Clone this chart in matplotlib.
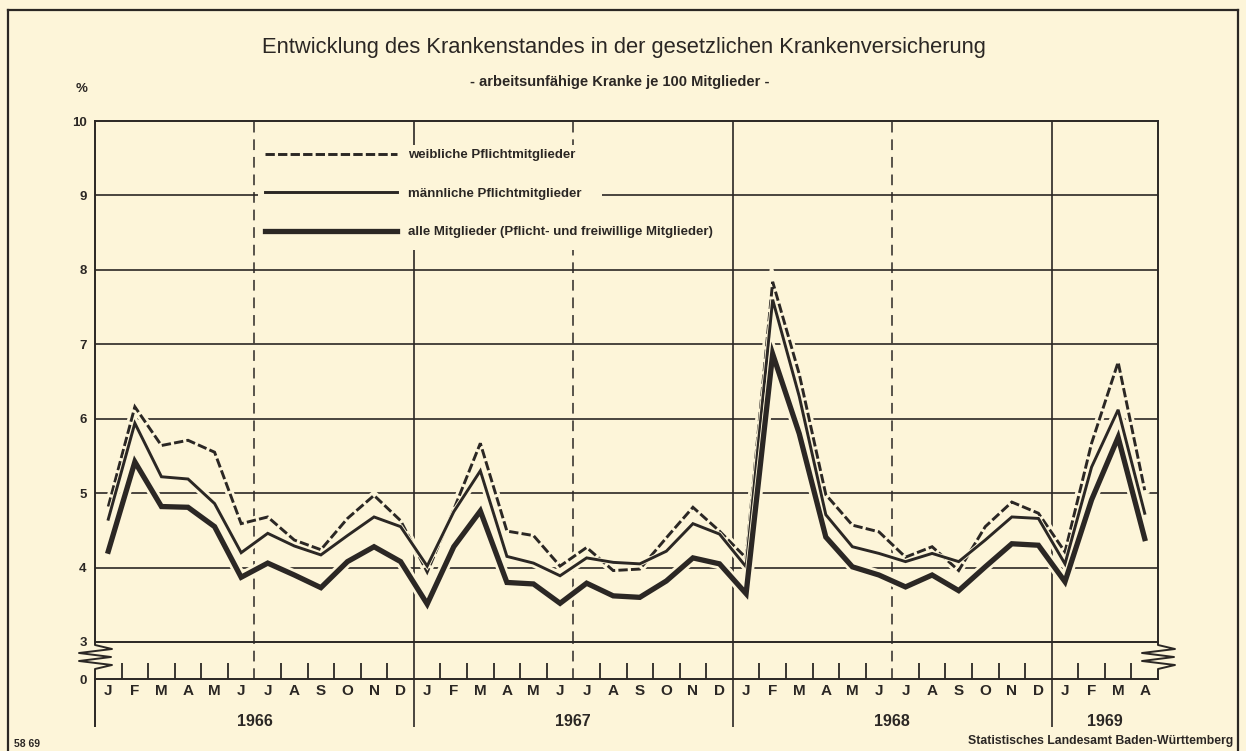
import matplotlib
matplotlib.use("Agg")
import matplotlib.pyplot as plt
import matplotlib.patheffects as pe
from matplotlib.lines import Line2D
from matplotlib.patches import Rectangle
import numpy as np

# arbeitsunfähige Kranke je 100 Mitglieder, Jan 1966 - Apr 1969 (monthly)
month_labels = ["J", "F", "M", "A", "M", "J", "J", "A", "S", "O", "N", "D"] * 3 + ["J", "F", "M", "A"]
year_labels = ["1966", "1967", "1968", "1969"]
year_months = [12, 12, 12, 4]

weiblich = [4.82, 6.16, 5.64, 5.71, 5.55, 4.59, 4.68, 4.37, 4.24, 4.66, 4.97, 4.63,
            3.94, 4.78, 5.67, 4.49, 4.43, 4.02, 4.27, 3.96, 3.98, 4.40, 4.81, 4.49,
            4.13, 7.84, 6.60, 4.98, 4.57, 4.48, 4.14, 4.28, 3.96, 4.55, 4.88, 4.73,
            4.21, 5.67, 6.76, 5.04]
maennlich = [4.65, 5.94, 5.22, 5.19, 4.86, 4.20, 4.46, 4.29, 4.17, 4.43, 4.68, 4.55,
             4.02, 4.75, 5.30, 4.15, 4.06, 3.89, 4.13, 4.07, 4.05, 4.22, 4.59, 4.45,
             4.01, 7.60, 6.30, 4.71, 4.28, 4.19, 4.08, 4.19, 4.08, 4.37, 4.68, 4.66,
             4.05, 5.35, 6.12, 4.73]
alle = [4.22, 5.42, 4.82, 4.81, 4.55, 3.87, 4.06, 3.90, 3.73, 4.08, 4.28, 4.08,
        3.51, 4.28, 4.76, 3.80, 3.78, 3.52, 3.79, 3.62, 3.60, 3.82, 4.13, 4.05,
        3.65, 6.87, 5.80, 4.41, 4.01, 3.90, 3.74, 3.90, 3.69, 4.01, 4.32, 4.30,
        3.81, 4.91, 5.75, 4.39]

legend_labels = ["weibliche Pflichtmitglieder",
                 "männliche Pflichtmitglieder",
                 "alle Mitglieder (Pflicht- und freiwillige Mitglieder)"]

bg = "#fdf5d9"
ink = "#2b2724"
FONT = ["Liberation Sans", "DejaVu Sans"]

W, H = 1246, 751
def fx(px):
    return px / W
def fy(py):
    return 1 - py / H

fig = plt.figure(figsize=(W / 100, H / 100), dpi=100, facecolor=bg)

# main plot area (3..10 %)
ax = fig.add_axes([fx(95), fy(642), fx(1158) - fx(95), fy(121) - fy(642)])
ax.set_facecolor(bg)
n = len(alle)
x = np.arange(n)
ax.set_xlim(-0.5, n - 0.5)
ax.set_ylim(3, 10)

year_edges = np.cumsum([0] + year_months) - 0.5
mid_years = [year_edges[i] + 6 for i in range(3)]

for v in range(4, 10):
    ax.axhline(v, color=ink, lw=1.2, zorder=1)
for xe in year_edges[1:-1]:
    ax.axvline(xe, color=ink, lw=1.2, zorder=1)
for xm in mid_years:
    ax.axvline(xm, color=ink, lw=1.1, ls=(0, (7, 4.5)), zorder=1)

# gap in the grid behind the legend
ax.add_patch(Rectangle((5.62, 8.27), 18.58 - 5.62, 9.68 - 8.27,
                       facecolor=bg, edgecolor="none", zorder=1.5))

series = [
    (weiblich, 2.1, (0, (3.2, 1.1))),
    (maennlich, 2.1, "-"),
    (alle, 3.8, "-"),
]
# wide halos first so the grid is cut where the curves pass
for vals, lw, ls in series:
    ax.plot(x, vals, color=bg, lw=lw + 4, zorder=2, solid_joinstyle="miter")
handles = []
for vals, lw, ls in series:
    ln, = ax.plot(x, vals, color=ink, lw=lw, ls=ls, zorder=3,
                  solid_joinstyle="miter", dash_joinstyle="miter",
                  path_effects=[pe.Stroke(linewidth=lw + 1.3, foreground=bg), pe.Normal()])
    handles.append(ln)

leg = ax.legend(handles, legend_labels, loc="upper left",
                bbox_to_anchor=((265 - 95) / 1063, (642 - 149) / 521),
                frameon=False, borderpad=0, borderaxespad=0,
                handlelength=10.0, handletextpad=0.85, labelspacing=2.0,
                prop=dict(family=FONT, weight="bold", size=9.5))
for t in leg.get_texts():
    t.set_color(ink)
leg.set_zorder(5)

ax.set_xticks([])
ax.set_yticks(range(3, 11))
ax.set_yticklabels([str(v) for v in range(3, 11)], fontfamily=FONT,
                   fontweight="bold", fontsize=9.5, color=ink)
ax.tick_params(axis="y", length=0, pad=6)
for s in ax.spines.values():
    s.set_color(ink)
    s.set_linewidth(1.4)

# compressed strip 0..3 with month ticks
axb = fig.add_axes([fx(95), fy(679), fx(1158) - fx(95), fy(642) - fy(679)])
axb.set_facecolor("none")
axb.set_xlim(-0.5, n - 0.5)
axb.set_ylim(0, 1)
for side in ["top", "left", "right"]:
    axb.spines[side].set_visible(False)
axb.spines["bottom"].set_color(ink)
axb.spines["bottom"].set_linewidth(1.4)
axb.set_xticks([])
axb.set_yticks([0])
axb.set_yticklabels(["0"], fontfamily=FONT, fontweight="bold", fontsize=9.5, color=ink)
axb.tick_params(axis="y", length=0, pad=6)

bounds = np.arange(n - 1) + 0.5
small = [b for b in bounds if b not in list(year_edges) and b not in mid_years]
axb.vlines(small, 0, 0.43, color=ink, lw=1.3)
for xm in mid_years:
    axb.vlines(xm, 0, 1, color=ink, lw=1.1, ls=(0, (7, 4.5)))
for xe in year_edges[1:-1]:
    axb.vlines(xe, -1.3, 1, color=ink, lw=1.2, clip_on=False)
axb.vlines(year_edges[0], -1.3, 0, color=ink, lw=1.4, clip_on=False)

# axis break zigzags
axw = 1063
zz_off = [0, 0, 17, -16, 16, -16, 17, 0, 0]
zz_py = [642, 645, 649, 653, 657, 661, 665, 669, 679]
zy = [(679 - p) / 37 for p in zz_py]
axb.add_line(Line2D([o / axw for o in zz_off], zy, transform=axb.transAxes,
                    color=ink, lw=1.4, clip_on=False))
axb.add_line(Line2D([1 + o / axw for o in zz_off], zy, transform=axb.transAxes,
                    color=ink, lw=1.4, clip_on=False))

for i, m in enumerate(month_labels):
    axb.text(i, -0.32, m, ha="center", va="center", fontfamily=FONT,
             fontweight="bold", fontsize=11, color=ink)
for k, yl in enumerate(year_labels):
    xc = (year_edges[k] + year_edges[k + 1]) / 2
    axb.text(xc, -1.14, yl, ha="center", va="center", fontfamily=FONT,
             fontweight="bold", fontsize=11.5, color=ink)

# titles and footer
fig.text(fx(624), fy(48), "Entwicklung des Krankenstandes in der gesetzlichen Krankenversicherung",
         ha="center", va="center", fontfamily=FONT, fontsize=15.8, color=ink)
fig.text(fx(620), fy(82), "- arbeitsunfähige Kranke je 100 Mitglieder -",
         ha="center", va="center", fontfamily=FONT, fontweight="bold", fontsize=10.5, color=ink)
fig.text(fx(82), fy(89), "%", ha="center", va="center", fontfamily=FONT,
         fontweight="bold", fontsize=9.5, color=ink)
fig.text(fx(14), fy(744), "58 69", ha="left", va="center", fontfamily=FONT,
         fontweight="bold", fontsize=7.5, color=ink)
fig.text(fx(1233), fy(741), "Statistisches Landesamt Baden-Württemberg", ha="right",
         va="center", fontfamily=FONT, fontweight="bold", fontsize=8.8, color=ink)

# outer frame
for xs, ys in [([8, 8], [10, 751]), ([8, 1238], [10, 10]), ([1238, 1238], [10, 751])]:
    fig.add_artist(Line2D([fx(v) for v in xs], [fy(v) for v in ys],
                          transform=fig.transFigure, color=ink, lw=1.6))

fig.savefig("out.png", dpi=100, facecolor=bg)
